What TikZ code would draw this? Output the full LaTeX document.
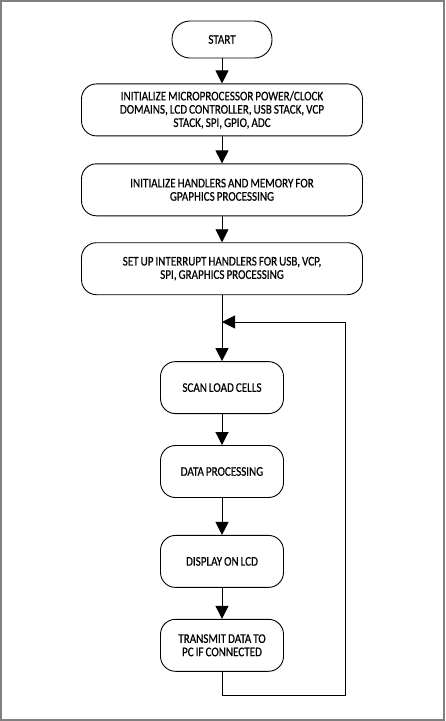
\documentclass[tikz,border=0pt]{standalone}
\usepackage{fontspec}
\setmainfont{Carlito}[FakeStretch=0.84, FakeBold=0.5, WordSpace=0.8]
\usetikzlibrary{positioning, arrows.meta}

\begin{document}
\begin{tikzpicture}[
    x=1pt, y=-1pt,
    font=\fontsize{13.2}{13.3}\selectfont,
    node distance=30pt,
    terminal/.style={rectangle, rounded corners=18pt, draw=black, line width=0.9pt,
                     minimum width=100pt, minimum height=37pt, align=center},
    widebox/.style={rectangle, rounded corners=15pt, draw=black, line width=0.9pt,
                    minimum width=281pt, minimum height=52pt, align=center},
    narrowbox/.style={rectangle, rounded corners=15pt, draw=black, line width=0.9pt,
                      minimum width=123pt, minimum height=52pt, align=center},
    arrow/.style={-{Triangle[length=13pt, width=13pt]}, line width=0.9pt},
    frame/.style={draw=gray, line width=2.2pt}
]
\useasboundingbox (0,0) rectangle (445,721);
\draw[frame] (1,1) rectangle (444,720);

% --- Inicialización ---
\node[terminal] (start) at (222,39.5) {START};
\node[widebox, below=25pt of start] (initmcu) {INITIALIZE MICROPROCESSOR POWER/CLOCK\\DOMAINS, LCD CONTROLLER, USB STACK, VCP\\STACK, SPI, GPIO, ADC};
\node[widebox, below=27pt of initmcu] (inithandlers) {INITIALIZE HANDLERS AND MEMORY FOR\\GPAPHICS PROCESSING};
\node[widebox, below=26pt of inithandlers] (interrupts) {SET UP INTERRUPT HANDLERS FOR USB, VCP,\\SPI, GRAPHICS PROCESSING};

% --- Bucle principal ---
\node[narrowbox, below=66pt of interrupts] (scan) {SCAN LOAD CELLS};
\node[narrowbox, below=31pt of scan] (dataproc) {DATA PROCESSING};
\node[narrowbox, below=37pt of dataproc] (display) {DISPLAY ON LCD};
\node[narrowbox, below=31pt of display] (transmit) {TRANSMIT DATA TO\\PC IF CONNECTED};

\coordinate (loopjoin) at (222,322);
\coordinate (loopcorner) at (345,695);

% --- Flechas ---
\draw[arrow] (start) -- (initmcu);
\draw[arrow] (initmcu) -- (inithandlers);
\draw[arrow] (inithandlers) -- (interrupts);
\draw[arrow] (interrupts) -- (scan);
\draw[arrow] (scan) -- (dataproc);
\draw[arrow] (dataproc) -- (display);
\draw[arrow] (display) -- (transmit);

% Retorno del bucle
\draw[arrow] (transmit.south) |- (loopcorner) |- (loopjoin);

\end{tikzpicture}
\end{document}
